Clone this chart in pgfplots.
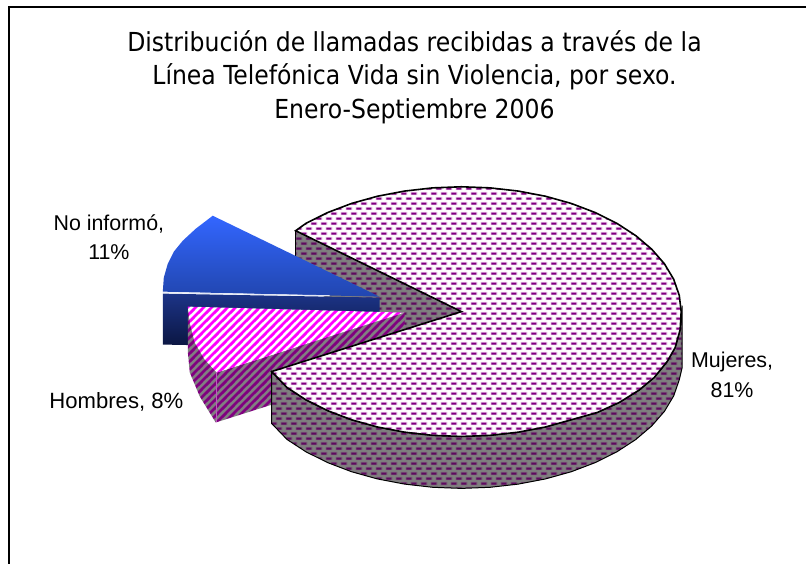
\documentclass[border=0pt]{standalone}
\usepackage{fontspec}
\setmainfont{Liberation Sans}
\newfontfamily\titlefont{DejaVu Sans Condensed}
\usepackage{pgfplots}
\pgfplotsset{compat=1.18}
\usetikzlibrary{patterns}
\definecolor{dashP}{HTML}{800080}
\definecolor{haloP}{HTML}{EBC8EB}
\definecolor{wallD}{HTML}{5E0A5E}
\definecolor{wallG}{HTML}{808080}
\definecolor{wallH}{HTML}{785C78}
\definecolor{mag}{HTML}{FF00FF}
\definecolor{stripeP}{HTML}{800080}
\newcommand{\rect}[4]{\pgfpathrectangle{\pgfqpoint{#1bp}{#2bp}}{\pgfqpoint{#3bp}{#4bp}}}
\newcommand{\dashtile}[3]{%
  \pgfsetfillcolor{#1}\rect{0}{0}{10}{10}\pgfusepath{fill}%
  \pgfsetfillcolor{#2}\rect{1.7}{0.8}{6.6}{3.4}\rect{0}{5.8}{3.3}{3.4}\rect{6.7}{5.8}{3.3}{3.4}\pgfusepath{fill}%
  \pgfsetfillcolor{#3}\rect{2.5}{1.5}{5}{2}\rect{0}{6.5}{2.5}{2}\rect{7.5}{6.5}{2.5}{2}\pgfusepath{fill}}
\newcommand{\stripetile}[2]{%
  \pgfsetfillcolor{#1}\rect{0}{0}{8}{8}\pgfusepath{fill}%
  \pgfsetfillcolor{#2}%
  \pgfpathmoveto{\pgfqpoint{0bp}{0bp}}\pgfpathlineto{\pgfqpoint{4bp}{0bp}}\pgfpathlineto{\pgfqpoint{8bp}{4bp}}\pgfpathlineto{\pgfqpoint{8bp}{8bp}}\pgfpathclose
  \pgfpathmoveto{\pgfqpoint{0bp}{4bp}}\pgfpathlineto{\pgfqpoint{4bp}{8bp}}\pgfpathlineto{\pgfqpoint{0bp}{8bp}}\pgfpathclose
  \pgfusepath{fill}}
\pgfdeclarepatterninherentlycolored{mainface}{\pgfpointorigin}{\pgfqpoint{10bp}{10bp}}{\pgfqpoint{10bp}{10bp}}{\dashtile{white}{haloP}{dashP}}
\pgfdeclarepatterninherentlycolored{mainwall}{\pgfpointorigin}{\pgfqpoint{10bp}{10bp}}{\pgfqpoint{10bp}{10bp}}{\dashtile{wallG}{wallH}{wallD}}
\pgfdeclarepatterninherentlycolored{pinkface}{\pgfpointorigin}{\pgfqpoint{8bp}{8bp}}{\pgfqpoint{8bp}{8bp}}{\stripetile{white}{mag}}
\pgfdeclarepatterninherentlycolored{pinkwall}{\pgfpointorigin}{\pgfqpoint{8bp}{8bp}}{\pgfqpoint{8bp}{8bp}}{\stripetile{wallG}{stripeP}}
\begin{document}
\begin{tikzpicture}
\begin{axis}[
  hide axis, scale only axis, width=807bp, height=565bp,
  xmin=0, xmax=807, ymin=0, ymax=565, y dir=reverse,
  clip=false, axis line style={draw=none}]
% page extent
\addplot[fill=white, draw=none] coordinates {(0,0) (807,0) (807,565) (0,565)} -- cycle;
% chart frame
\addplot[black, line width=2bp] coordinates {(807,7) (9,7) (9,565)};
% back cut wall of Mujeres
\addplot[draw=none, pattern=mainwall] coordinates {(296,231) (462,312) (462,364) (296,283)} -- cycle;
\addplot[black, line width=0.6bp] coordinates {(296,231) (296,283)};
% No informo: top and side
\addplot[draw=none, top color={rgb,255:red,51;green,102;blue,255}, bottom color={rgb,255:red,33;green,70;blue,175}]
  coordinates {(163,292) (164,278) (168,264) (174,252) (183,241) (196,229) (213,216) (380,297)} -- cycle;
\addplot[draw=none, top color={rgb,255:red,28;green,52;blue,135}, bottom color={rgb,255:red,10;green,20;blue,62}]
  coordinates {(163,294) (380,298) (380,349) (163,345)} -- cycle;
\addplot[color={rgb,255:red,225;green,230;blue,245}, line width=0.8bp] coordinates {(163,293) (330,296)};
% Hombres: walls and top
\addplot[draw=none, pattern=pinkwall] coordinates {(188,307) (188,352) (190,373) (200,397) (216,423) (405,363) (405,313) (217,373)} -- cycle;
\addplot[color={rgb,255:red,190;green,90;blue,190}, line width=0.6bp] coordinates {(216.5,373) (216.5,423)};
\addplot[draw=none, pattern=pinkface] coordinates {(188,307) (190,323) (195,343) (205,360) (217,373) (405,313)} -- cycle;
% Mujeres: front wall
\addplot[black, line width=1bp, pattern=mainwall] coordinates {
  (272,372) (287.5,388.1) (306.4,400.4) (328.1,411.2) (352,420.3) (377.8,427.5) (405.1,432.7) (433.3,435.9) (462,437) (490.7,435.9) (518.9,432.7) (546.2,427.5) (572,420.3) (598,413) (620,403) (640,390.5) (655,378) (668,362) (676,348) (681,330) (683,306)
  (683,368) (680.1,380.3) (674.5,396.4) (665.3,411.8) (652.5,426.5) (636.5,440.1) (617.6,452.4) (595.9,463.2) (572,472.3) (546.2,479.5) (518.9,484.7) (490.7,487.9) (462,489) (433.3,487.9) (405.1,484.7) (377.8,479.5) (352,472.3) (328.1,463.2) (306.4,452.4) (287.5,440.1) (272,424)} -- cycle;
% Mujeres: top
\addplot[black, line width=1.6bp, pattern=mainface] coordinates {
  (462,312) (296,231) (306.4,223.6) (328.1,212.8) (352,203.7) (377.8,196.5) (405.1,191.3) (433.3,188.1) (462,187) (490.7,188.1) (518.9,191.3) (546.2,196.5) (572,203.7) (595.9,212.8) (617.6,223.6) (636.5,235.9) (652.5,249.5) (665.3,264.2) (674.5,279.6) (680.1,295.7) (682,312)
  (681,330) (676,348) (668,362) (655,378) (640,390.5) (620,403) (598,413) (572,420.3) (546.2,427.5) (518.9,432.7) (490.7,435.9) (462,437) (433.3,435.9) (405.1,432.7) (377.8,427.5) (352,420.3) (328.1,411.2) (306.4,400.4) (287.5,388.1) (272,372)} -- cycle;
% texts
\tikzset{t/.style={anchor=base,inner sep=0pt,font=\titlefont\fontsize{26.3}{26.3}\selectfont}, l/.style={anchor=base,inner sep=0pt,font=\fontsize{21.5}{21.5}\selectfont}}
\node[t] at (axis cs:415,52) {Distribución de llamadas recibidas a través de la};
\node[t] at (axis cs:415,85) {Línea Telefónica Vida sin Violencia, por sexo.};
\node[t] at (axis cs:415,119) {Enero-Septiembre 2006};
\node[l] at (axis cs:109,231) {No informó,};
\node[l] at (axis cs:109,260) {11\%};
\node[l,font=\fontsize{22.2}{22.2}\selectfont] at (axis cs:116.5,409) {Hombres, 8\%};
\node[l] at (axis cs:733,368) {Mujeres,};
\node[l] at (axis cs:733,398) {81\%};
\end{axis}
\end{tikzpicture}
\end{document}
